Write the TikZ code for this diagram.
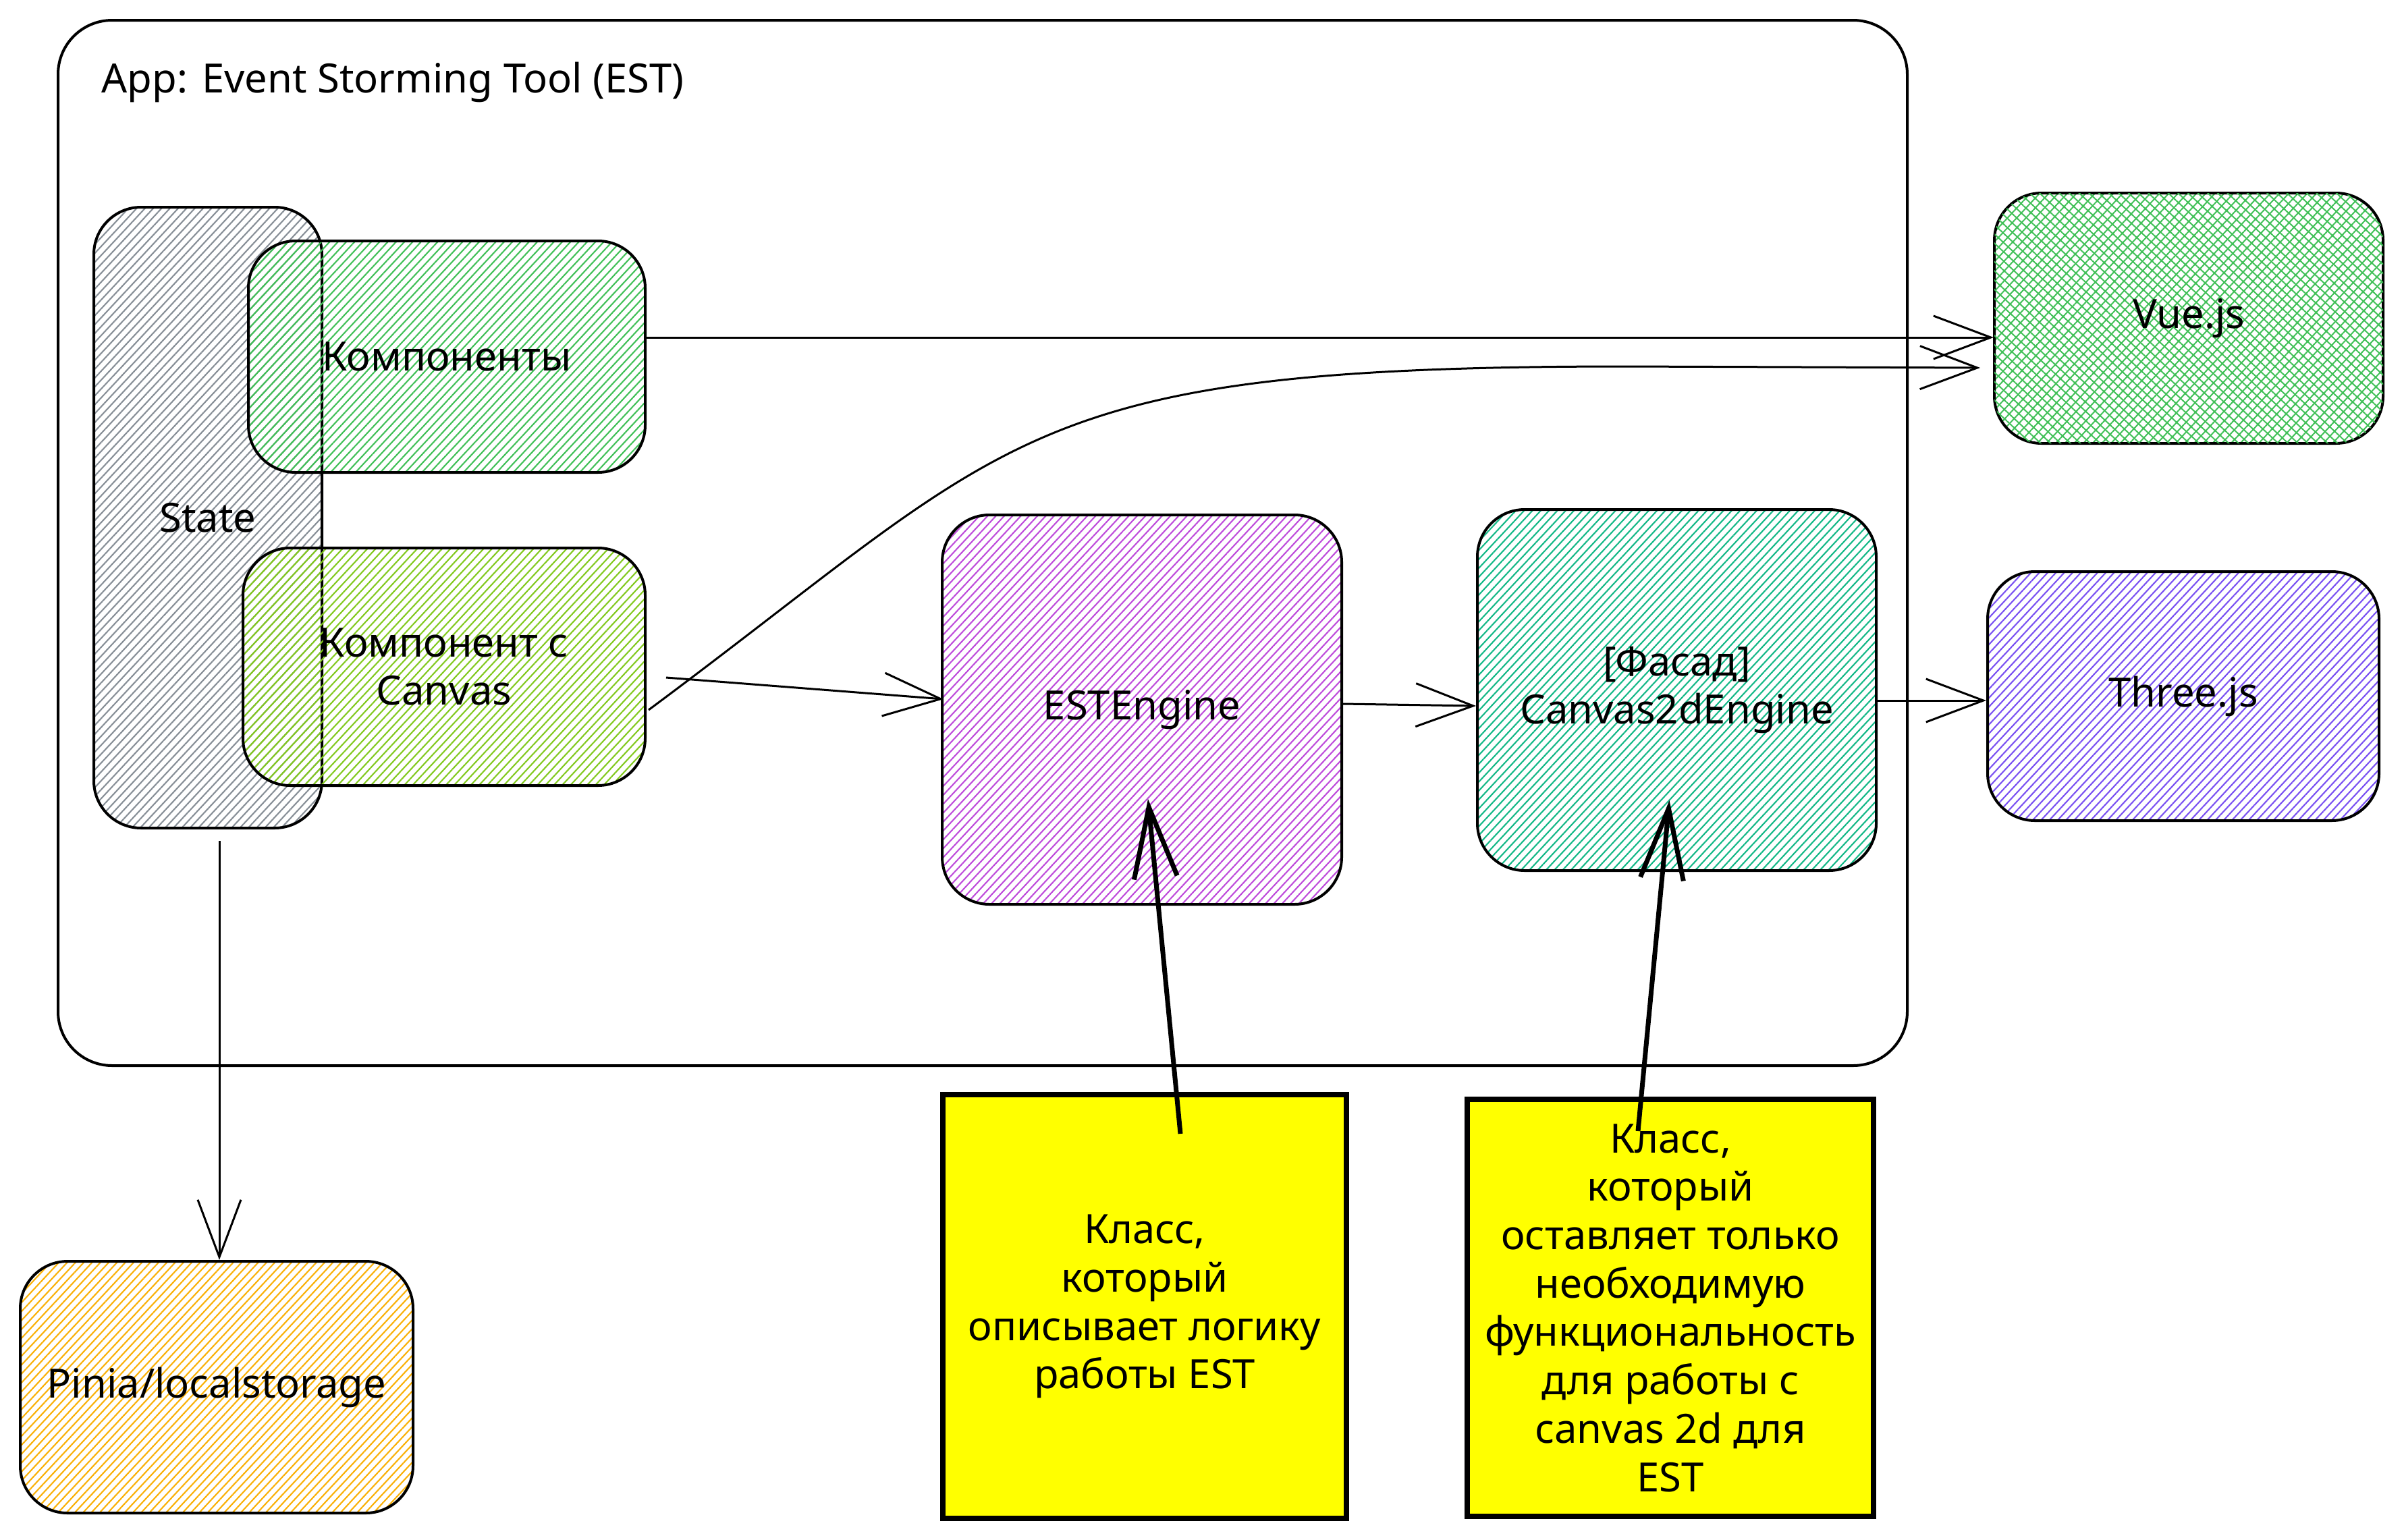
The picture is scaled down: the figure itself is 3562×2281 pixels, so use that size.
\documentclass[tikz,border=0pt]{standalone}
\usepackage{fontspec}
\setmainfont{Noto Sans}
\usetikzlibrary{arrows.meta,patterns.meta,calc}
\definecolor{stategray}{HTML}{868E96}
\definecolor{compgreen}{HTML}{40C057}
\definecolor{canvasgreen}{HTML}{82C91E}
\definecolor{estpurple}{HTML}{BE4BDB}
\definecolor{cteal}{HTML}{12B886}
\definecolor{threeviolet}{HTML}{7950F2}
\definecolor{piniaorange}{HTML}{FAB005}
\definecolor{noteyellow}{HTML}{FFFF00}
\newcommand\lblfont{\fontsize{17pt}{20.4pt}\selectfont}
\tikzset{
  box/.style={draw=black, line width=0.4mm, rounded corners=7mm, align=center,
    inner sep=0pt, font=\lblfont},
  hatch/.style={pattern={Lines[angle=47,distance=0.9mm,line width=0.21mm]}, pattern color=#1},
  crosshatch/.style={pattern={Lines[angle=47,distance=1mm,line width=0.2mm]}, pattern color=#1,
    postaction={pattern={Lines[angle=-43,distance=1mm,line width=0.2mm]}, pattern color=#1}},
  frame/.style={draw=black, line width=0.4mm, rounded corners=8mm, inner sep=0pt},
  note/.style={draw=black, fill=noteyellow, line width=0.8mm, align=center, inner sep=0pt,
    font=\lblfont},
  arr/.style={-{Straight Barb[length=8.5mm,width=6.4mm]}, line width=0.3mm},
  thickarr/.style={-{Straight Barb[length=10.5mm,width=6.4mm]}, line width=0.7mm},
}
\begin{document}
\begin{tikzpicture}[x=0.1mm,y=-0.1mm]
\fill[white] (0,0) rectangle (3562,2281);
\useasboundingbox (0,0) rectangle (3562,2281);

% container
\node[frame, minimum width=274mm, minimum height=154.9mm] (app) at (1456,804.5) {};
\node[anchor=west, font=\lblfont, inner sep=0pt] (title) at (150,122) {App: Event Storming Tool (EST)};

% state and components
\node[box, hatch=stategray, minimum width=33.8mm, minimum height=92mm] (state) at (308,767) {State};
\node[box, hatch=compgreen, minimum width=58.8mm, minimum height=34.3mm] (comps) at (662,528.5) {Компоненты};
\node[box, hatch=canvasgreen, minimum width=59.6mm, minimum height=35.2mm] (canvasc) at (658,988) {Компонент с\\Canvas};

% engines
\node[box, hatch=estpurple, minimum width=59.2mm, minimum height=57.7mm] (est) at (1692,1051.5) {ESTEngine};
\node[box, hatch=cteal, minimum width=59.1mm, minimum height=53.5mm] (c2d) at (2484.5,1022.5) {[Фасад]\\Canvas2dEngine};

% external libs
\node[box, crosshatch=compgreen, minimum width=57.6mm, minimum height=37.1mm] (vue) at (3243,471.5) {Vue.js};
\node[box, hatch=threeviolet, minimum width=58mm, minimum height=36.9mm] (three) at (3235,1031.5) {Three.js};
\node[box, hatch=piniaorange, minimum width=58.2mm, minimum height=37.3mm] (pinia) at (321,2055.5) {Pinia/localstorage};

% notes
\node[note, minimum width=59.8mm, minimum height=62.8mm] (note1) at (1696,1936)
  {Класс,\\который\\описывает логику\\работы EST};
\node[note, minimum width=60.2mm, minimum height=61.8mm] (note2) at (2475,1938)
  {Класс,\\который\\оставляет только\\необходимую\\функциональность\\для работы с\\canvas 2d для\\EST};

% connectors
\draw[arr] ($(comps.east)+(0,-28.5)$) coordinate (a1s) -- (a1s -| vue.west);
\coordinate (c2s) at ($(canvasc.east)+(3,64)$);
\coordinate (c2e) at ($(vue.west)+(-20,73.5)$);
\draw[arr] (c2s) .. controls (1509,645) and (1509,543) .. (2409,543) -- (c2e);
\draw[arr] ($(canvasc.east)+(29,16)$) -- ($(est.west)+(4,-15.5)$);
\draw[arr] ($(est.east)+(0,-8.5)$) -- ($(c2d.west)+(0,23.5)$);
\draw[arr] ($(c2d.east)+(0,15.5)$) coordinate (a5s) -- (a5s -| three.west);
\draw[arr] ($(state.south)+(17,18)$) coordinate (a6s) -- (a6s |- pinia.north);
\draw[thickarr] ($(note1.north)+(53,62)$) -- ($(est.south)+(9,-158)$);
\draw[thickarr] ($(note2.north)+(-48,51)$) -- ($(c2d.south)+(-11,-106)$);
\end{tikzpicture}
\end{document}
